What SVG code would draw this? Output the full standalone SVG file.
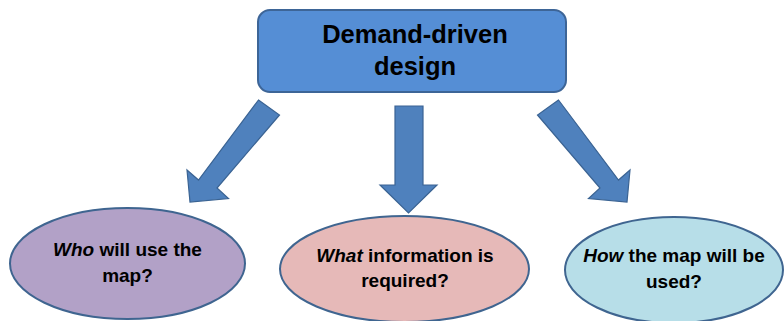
<svg xmlns="http://www.w3.org/2000/svg" width="784" height="321" viewBox="0 0 784 321">
  <style>
    .box { fill: #558ed5; stroke: #3d6597; stroke-width: 2; }
    .arrow { fill: #4f81bd; stroke: #3a6393; stroke-width: 1.2; stroke-linejoin: miter; }
    .oval { stroke: #3f6590; stroke-width: 2; }
    .title { font-family: "Liberation Sans", Arial, sans-serif; font-weight: bold; font-size: 25.5px; fill: #000; text-anchor: middle; }
    .label { font-family: "Liberation Sans", Arial, sans-serif; font-weight: bold; font-size: 19px; fill: #000; text-anchor: middle; }
    .em { font-style: italic; }
  </style>

  <rect width="784" height="321" fill="#ffffff"/>

  <g id="connectors">
    <polygon class="arrow" points="258.5,100 279.5,115 217,188 228.5,198.5 190,202 187,170 198.5,180"/>
    <polygon class="arrow" points="395,106 423,106 423,185 437,185 408.5,213 380,185 395,185"/>
    <polygon class="arrow" points="558.5,100 537.5,115 600,188 588.5,198.5 627,202 630,170 618.5,180"/>
  </g>

  <g id="demand-driven">
    <rect class="box" x="258" y="10" width="308" height="82" rx="12" ry="12"/>
    <text class="title" x="415" y="43">Demand-driven</text>
    <text class="title" x="415" y="75">design</text>
  </g>

  <g id="who">
    <ellipse class="oval" cx="127.5" cy="263.5" rx="117.5" ry="55.5" fill="#b2a1c7"/>
    <text class="label" x="127.5" y="256"><tspan class="em">Who</tspan> will use the</text>
    <text class="label" x="127.5" y="282">map?</text>
  </g>

  <g id="what">
    <ellipse class="oval" cx="404.5" cy="269" rx="124.5" ry="53" fill="#e6b9b8"/>
    <text class="label" x="405" y="262"><tspan class="em">What</tspan> information is</text>
    <text class="label" x="405" y="287">required?</text>
  </g>

  <g id="how">
    <ellipse class="oval" cx="674" cy="270" rx="109" ry="53" fill="#b7dee8"/>
    <text class="label" x="674" y="262"><tspan class="em">How</tspan> the map will be</text>
    <text class="label" x="674" y="288">used?</text>
  </g>
</svg>
